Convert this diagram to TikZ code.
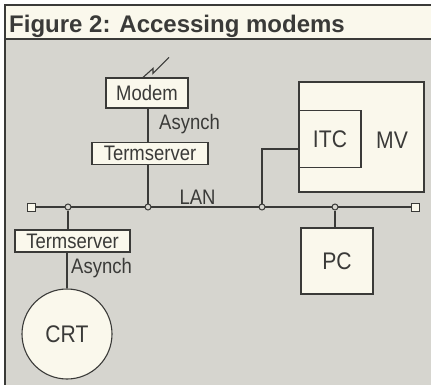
\documentclass[tikz,border=0pt]{standalone}
\usepackage{fontspec}
\setmainfont{Liberation Sans}
\newfontfamily\labelfont[FakeStretch=0.88]{Liberation Sans}
\usepackage{xcolor}
\definecolor{panel}{RGB}{214,213,207}
\definecolor{paper}{RGB}{250,248,236}
\definecolor{ink}{RGB}{58,58,56}
\usetikzlibrary{calc,positioning}
\tikzset{
  box/.style={draw=ink,fill=paper,line width=1.1pt,inner sep=0pt,%
    font=\labelfont\fontsize{21}{21}\selectfont,text=ink},
  host/.style={box,font=\labelfont\fontsize{24}{24}\selectfont},
  tap/.style={circle,draw=ink,fill=panel,line width=1pt,minimum size=6pt,inner sep=0pt},
  term/.style={draw=ink,fill=paper,line width=1pt,minimum size=8pt,inner sep=0pt},
  lbl/.style={font=\labelfont\fontsize{21}{21}\selectfont,text=ink,inner sep=0pt},
  link/.style={draw=ink,line width=1.1pt},
}

\begin{document}
\begin{tikzpicture}[x=1pt,y=-1pt]
\useasboundingbox (0,0) rectangle (431,385);
% frame and title
\fill[white] (0,0) rectangle (431,385);
\fill[paper] (5,5) rectangle (431,39);
\fill[panel] (5,39) rectangle (431,385);
\draw[ink,line width=2pt] (431,5) -- (5,5) -- (5,385);
\draw[ink,line width=2pt] (5,39) -- (431,39);
\node[anchor=base west,inner sep=0pt,text=ink,%
  font=\bfseries\fontsize{24}{24}\selectfont] (title) at (9,33) {Figure 2: Accessing modems};

% hosts
\node[host,minimum width=125pt,minimum height=110pt] (mv) at (361.5,137) {};
\node[lbl,font=\labelfont\fontsize{24}{24}\selectfont] at (392,140) {MV};
\node[host,minimum width=62pt,minimum height=57pt] (itc) at (330,139) {ITC};
\node[host,minimum width=72pt,minimum height=66pt] (pc) at (337,261) {PC};

% modem side
\node[box,minimum width=82pt,minimum height=30pt] (modem) at (147,93) {Modem};
\node[box,minimum width=116pt,minimum height=22pt] (ts1) at (150,153.5) {Termserver};
\node[lbl,anchor=west] (as1) at (159,124) {Asynch};

% terminal side
\node[box,minimum width=115pt,minimum height=22pt] (ts2) at (72.5,241) {Termserver};
\node[lbl,anchor=west] (as2) at (71,268) {Asynch};
\node[host,circle,minimum size=90pt] (crt) at (67,334) {CRT};

% LAN
\node[term] (wend) at (31,207) {};
\node[term] (eend) at (415,207) {};
\draw[link] (wend) -- (eend);
\node[lbl] (lan) at (197.5,197) {LAN};
\node[tap] (t1) at (68,207) {};
\node[tap] (t2) at (148,207) {};
\node[tap] (t3) at (262,207) {};
\node[tap] (t4) at (335,207) {};

% links
\draw[link] ($(modem.north)+(-4,0)$) -- ++(10,-9) -- ++(0,5) -- ++(16,-16);
\draw[link] (modem.south -| t2) -- (ts1.north -| t2);
\draw[link] (ts1.south -| t2) -- (t2);
\draw[link] (t1) -- (t1 |- ts2.north);
\draw[link] (ts2.south -| crt.north) -- (crt.north);
\draw[link] ([yshift=-10pt]itc.west) -| (t3);
\draw[link] (t4) -- (t4 |- pc.north);
\end{tikzpicture}
\end{document}
